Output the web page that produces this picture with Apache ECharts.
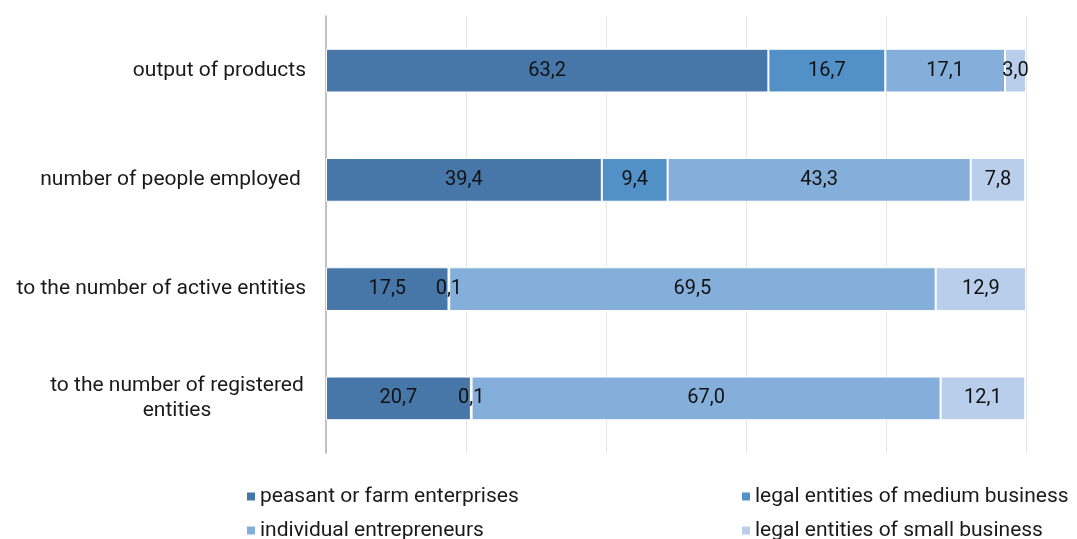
<!DOCTYPE html>
<html><head><meta charset="utf-8">
<script src="https://cdn.jsdelivr.net/npm/echarts@6/dist/echarts.min.js"></script>
<style>html,body{margin:0;padding:0;background:#fff}#c{width:1077px;height:539px}</style>
</head><body><div id="c"></div>
<script>
const categories = ['output of products','number of people employed ','to the number of active entities','to the number of registered\nentities'];
const seriesNames = ['peasant or farm enterprises','legal entities of medium business','individual entrepreneurs','legal entities of small business'];
const peasant = [63.2, 39.4, 17.5, 20.7];
const medium = [16.7, 9.4, 0.1, 0.1];
const individual = [17.1, 43.3, 69.5, 67.0];
const small = [3.0, 7.8, 12.9, 12.1];
const colors = ['#4677A8','#5291C8','#84AFDB','#B8CEEA'];
const values = [peasant, medium, individual, small];

const chart = echarts.init(document.getElementById('c'));
const font = 'Roboto';
const legendPos = [[240,481],[735,481],[240,515],[735,515]];
chart.setOption({
  animation:false,
  textStyle:{fontFamily:font},
  grid:{left:326, right:51, top:16, bottom:86, containLabel:false},
  xAxis:{type:'value', min:0, max:100, interval:20,
    axisLabel:{show:false}, axisLine:{show:false}, axisTick:{show:false},
    splitLine:{lineStyle:{color:'#e6e6e6', width:1}}},
  yAxis:{type:'category', inverse:true, data:categories,
    axisLine:{lineStyle:{color:'#b0b0b0', width:1.5}}, axisTick:{show:false},
    axisLabel:{color:'#1a1a1a', fontSize:21, margin:20, fontFamily:font, lineHeight:25,
      formatter: v => v.indexOf('registered')>=0 ? '{c|'+v+'}' : v,
      rich:{c:{align:'center', width:258, fontSize:21, lineHeight:25, color:'#1a1a1a', fontFamily:font}}}},
  legend: seriesNames.map((n,i)=>({
    left:legendPos[i][0], top:legendPos[i][1], itemWidth:10, itemHeight:10, itemGap:5, icon:'rect',
    textStyle:{fontSize:21, color:'#1a1a1a', fontFamily:font, padding:[0,0,0,-1]}, data:[n]
  })),
  series: seriesNames.map((n,i)=>({
    name:n, type:'bar', stack:'s', barWidth:'40%',
    itemStyle:{color:colors[i], borderColor:'#fff', borderWidth:1},
    label:{show:true, position:'inside', color:'#111', fontSize:20, fontFamily:font,
      formatter:p=>p.value.toFixed(1).replace('.',',')},
    data: values[i]
  }))
});
</script></body></html>
